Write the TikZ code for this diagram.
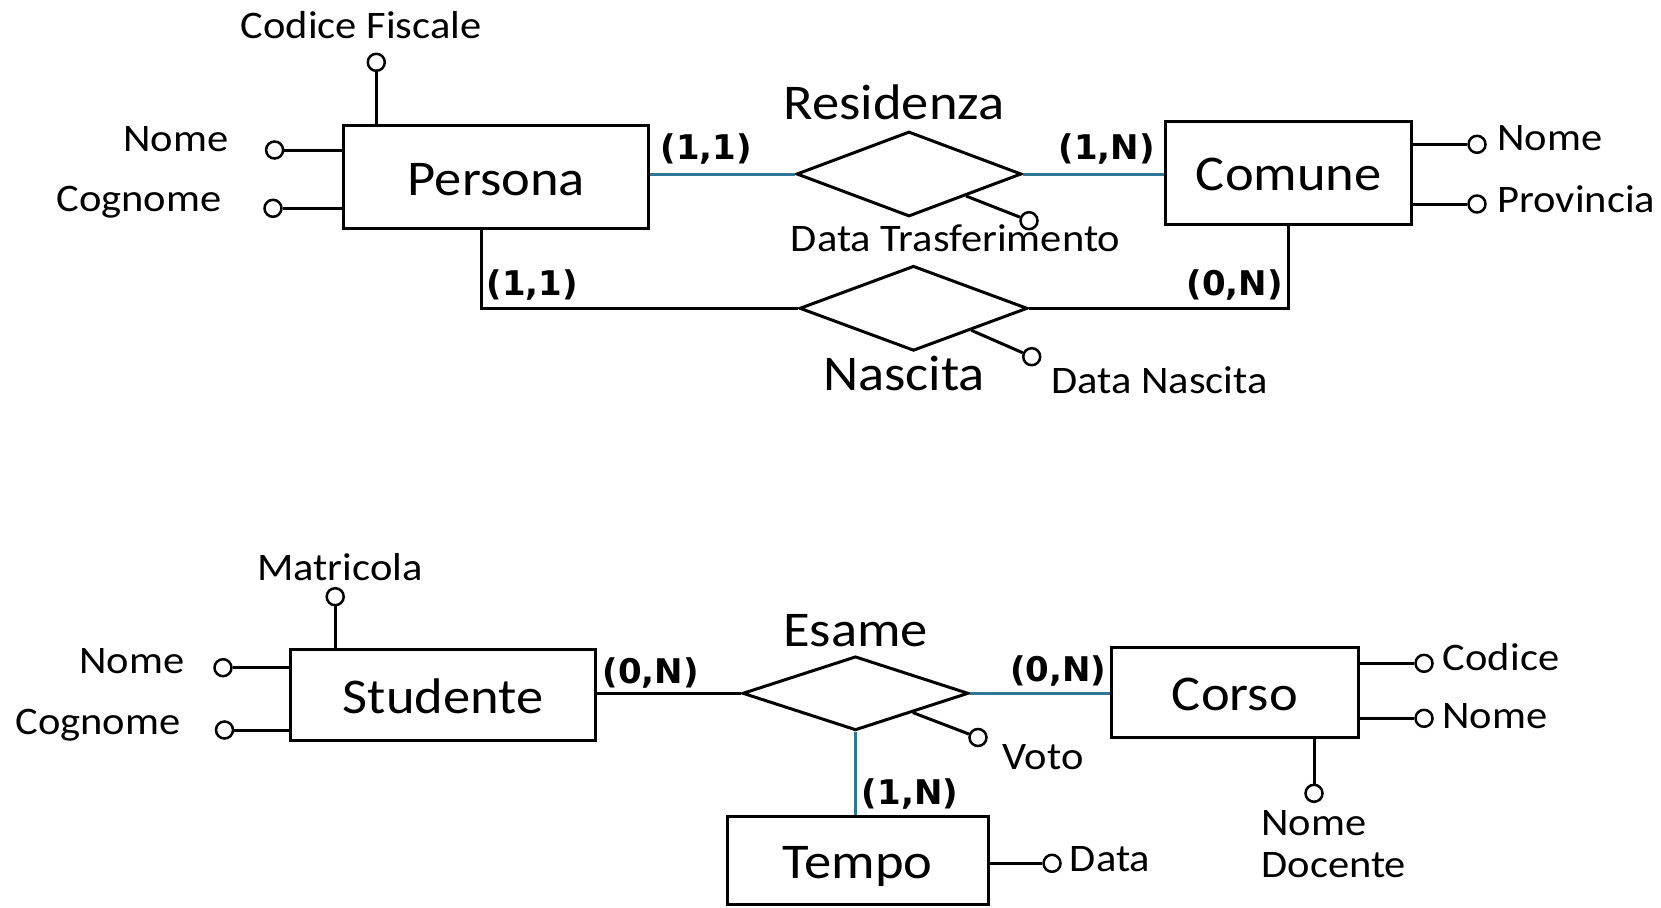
\documentclass[tikz,border=0pt]{standalone}
\usepackage{fontspec}
\setmainfont{Carlito}[FakeStretch=1.09]
\newfontfamily\cardfont{DejaVu Sans}
\usetikzlibrary{shapes.geometric,calc}
\definecolor{linkblue}{RGB}{46,117,150}
\begin{document}
\begin{tikzpicture}[x=1pt,y=-1pt,
  line width=3pt,
  entity/.style={draw, rectangle, inner sep=0pt, text height=36pt, text depth=0pt,
    font=\fontsize{50}{60}\selectfont},
  relation/.style={draw, diamond, inner sep=0pt},
  relname/.style={anchor=base, inner sep=0pt, font=\fontsize{50}{60}\selectfont},
  attr/.style={draw, circle, inner sep=0pt, minimum size=17pt, line width=2.5pt},
  attrname/.style={inner sep=0pt, font=\fontsize{39}{42}\selectfont},
  card/.style={inner sep=0pt, anchor=base west, font=\cardfont\bfseries\fontsize{34}{38}\selectfont},
  blueline/.style={draw=linkblue},
]
\useasboundingbox (0,0) rectangle (1661,907);

% ---------------- Persona / Comune ----------------
\node[entity, minimum width=305pt, minimum height=103pt] (Persona) at (496.3,177) {Persona};
\node[entity, minimum width=246pt, minimum height=103pt] (Comune) at (1288.8,172.7) {Comune};

\node[relation, minimum width=225pt, minimum height=85pt] (Residenza) at (909,174) {};
\node[relname] (ResidenzaL) at (894,119.3) {Residenza};
\node[relation, minimum width=228pt, minimum height=85pt] (Nascita) at (913.5,308.3) {};
\node[relname] (NascitaL) at (904,390) {Nascita};

\draw[blueline] (Residenza.west) -- (Residenza.west -| Persona.east);
\draw[blueline] (Residenza.east) -- (Residenza.east -| Comune.west);
\draw ([xshift=-15pt]Persona.south) |- (Nascita.west);
\draw (Comune.south) |- (Nascita.east);

\node[card] (c1) at (659,159) {(1,1)};
\node[card] (c2) at (1057,159) {(1,N)};
\node[card] (c3) at (485,295) {(1,1)};
\node[card] (c4) at (1185,295) {(0,N)};

% Persona attributes
\node[attr] (pCF) at (376.3,62.3) {};
\draw (pCF) -- (pCF |- Persona.north);
\node[attrname, anchor=base] (pCFL) at (361,38.3) {Codice Fiscale};
\node[attr] (pNo) at (274.6,150) {};
\draw (pNo) -- (pNo -| Persona.west);
\node[attrname, anchor=base east] (pNoL) at (230,151.7) {Nome};
\node[attr] (pCo) at (273,208.3) {};
\draw (pCo) -- (pCo -| Persona.west);
\node[attrname, anchor=base east] (pCoL) at (223,211) {Cognome};

% Comune attributes
\node[attr] (cNo) at (1477,144.3) {};
\draw (cNo) -- (cNo -| Comune.east);
\node[attrname, anchor=base west] (cNoL) at (1496,150.7) {Nome};
\node[attr] (cPr) at (1477,204) {};
\draw (cPr) -- (cPr -| Comune.east);
\node[attrname, anchor=base west] (cPrL) at (1496,212) {Provincia};

% relationship attributes
\node[attr] (rDT) at (1029,220.7) {};
\draw ($(Residenza.south)!0.5!(Residenza.east)$) -- (rDT);
\node[attrname, anchor=base west] (rDTL) at (789.4,251.7) {Data Trasferimento};
\node[attr] (nDN) at (1031.7,356.7) {};
\draw ($(Nascita.south)!0.5!(Nascita.east)$) -- (nDN);
\node[attrname, anchor=base west] (nDNL) at (1050,393.3) {Data Nascita};

% ---------------- Studente / Corso / Tempo ----------------
\node[entity, minimum width=305pt, minimum height=91pt] (Studente) at (443.1,695.3) {Studente};
\node[entity, minimum width=247pt, minimum height=90pt] (Corso) at (1234.9,692.3) {Corso};
\node[entity, minimum width=261pt, minimum height=88pt] (Tempo) at (857.6,860) {Tempo};

\node[relation, minimum width=226pt, minimum height=74pt] (Esame) at (855.5,693.3) {};
\node[relname] (EsameL) at (855.5,646.7) {Esame};

\draw (Esame.west) -- (Esame.west -| Studente.east);
\draw[blueline] (Esame.east) -- (Esame.east -| Corso.west);
\draw[blueline] (Esame.south) -- (Esame.south |- Tempo.north);

\node[card] (c5) at (601,683) {(0,N)};
\node[card] (c6) at (1008.5,681.5) {(0,N)};
\node[card] (c7) at (860.4,804) {(1,N)};

% Studente attributes
\node[attr] (sMa) at (335.2,596.7) {};
\draw (sMa) -- (sMa |- Studente.north);
\node[attrname, anchor=base] (sMaL) at (340,580) {Matricola};
\node[attr] (sNo) at (223,667.7) {};
\draw (sNo) -- (sNo -| Studente.west);
\node[attrname, anchor=base east] (sNoL) at (186,673.3) {Nome};
\node[attr] (sCo) at (224.5,730) {};
\draw (sCo) -- (sCo -| Studente.west);
\node[attrname, anchor=base east] (sCoL) at (182,734) {Cognome};

% Esame attribute
\node[attr] (eVo) at (978,737.5) {};
\draw ($(Esame.south)!0.5!(Esame.east)$) -- (eVo);
\node[attrname, anchor=base west] (eVoL) at (1001,769.3) {Voto};

% Corso attributes
\node[attr] (kCo) at (1424,663.3) {};
\draw (kCo) -- (kCo -| Corso.east);
\node[attrname, anchor=base west] (kCoL) at (1441.4,670) {Codice};
\node[attr] (kNo) at (1424,718.3) {};
\draw (kNo) -- (kNo -| Corso.east);
\node[attrname, anchor=base west] (kNoL) at (1441,728.3) {Nome};
\node[attr] (kND) at (1314,793.3) {};
\draw (kND) -- (kND |- Corso.south);
\node[attrname, anchor=base west] (kNDL1) at (1260,835) {Nome};
\node[attrname, anchor=base west] (kNDL2) at (1260,877) {Docente};

% Tempo attribute
\node[attr] (tDa) at (1052,863.3) {};
\draw (tDa) -- (tDa -| Tempo.east);
\node[attrname, anchor=base west] (tDaL) at (1068.4,871.7) {Data};
\end{tikzpicture}
\end{document}
